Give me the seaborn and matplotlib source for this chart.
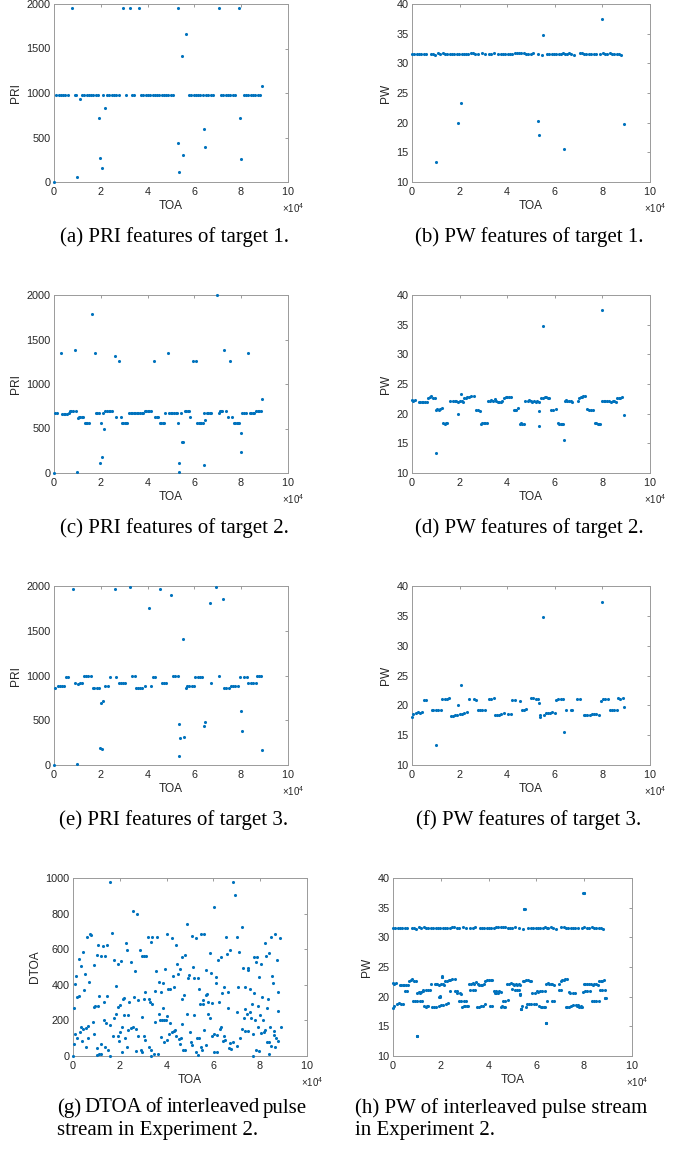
import numpy as np
import pandas as pd
import seaborn as sns
import matplotlib.pyplot as plt

# ---------------- target 1 : TOA (x1e4), PRI, PW ----------------
toa1 = [0.00, 0.10, 0.20, 0.29, 0.39, 0.49, 0.59,
        0.78, 0.88, 0.96, 1.00, 1.10,
        1.19, 1.29, 1.39, 1.48, 1.58, 1.68, 1.78, 1.87,
        1.94, 1.97, 2.06, 2.08, 2.18,
        2.27, 2.37, 2.47, 2.56, 2.66, 2.76,
        2.94, 3.06, 3.23, 3.33, 3.43, 3.63,
        3.72, 3.82, 3.92, 4.02, 4.11, 4.21, 4.31, 4.41, 4.50, 4.60, 4.70, 4.80, 4.89, 4.99, 5.09,
        5.28, 5.31, 5.34, 5.46, 5.50, 5.66,
        5.77, 5.87, 5.97, 6.06, 6.16, 6.26, 6.36,
        6.40, 6.44, 6.50, 6.60, 6.70, 6.80,
        7.04, 7.14, 7.24, 7.33, 7.43, 7.53, 7.63, 7.72,
        7.91, 7.97, 8.01,
        8.11, 8.21, 8.31, 8.41, 8.50, 8.60, 8.70, 8.80, 8.89]
pri1 = [0, 975, 975, 975, 975, 975, 975,
        1955, 975, 975, 52, 935,
        975, 975, 975, 975, 975, 975, 975, 975,
        714, 273, 161, 975, 826,
        975, 975, 975, 975, 975, 975,
        1955, 975, 1955, 975, 975, 1955,
        975, 975, 975, 975, 975, 975, 975, 975, 975, 975, 975, 975, 975, 975, 975,
        1955, 441, 108, 1413, 299, 1663,
        975, 975, 975, 975, 975, 975, 975,
        594, 393, 975, 975, 975, 975,
        1955, 975, 975, 975, 975, 975, 975, 975,
        1955, 721, 262,
        975, 975, 975, 975, 975, 975, 975, 975, 1077]
pw1 = [31.6, 31.5, 31.6, 31.5, 31.6, 31.6, 31.6,
       31.6, 31.5, 31.4, 13.4, 31.8,
       31.5, 31.7, 31.6, 31.5, 31.6, 31.5, 31.6, 31.6,
       20.0, 31.6, 23.3, 31.5, 31.5,
       31.6, 31.6, 31.7, 31.7, 31.5, 31.5,
       31.7, 31.6, 31.5, 31.6, 31.8, 31.6,
       31.6, 31.6, 31.6, 31.6, 31.6, 31.6, 31.7, 31.7, 31.8, 31.8, 31.7, 31.6, 31.5, 31.6, 31.7,
       31.6, 20.3, 17.9, 31.4, 34.8, 31.6,
       31.5, 31.6, 31.5, 31.5, 31.5, 31.6, 31.7,
       15.5, 31.5, 31.6, 31.7, 31.5, 31.4,
       31.7, 31.7, 31.5, 31.6, 31.5, 31.6, 31.6, 31.6,
       31.6, 37.4, 31.8,
       31.5, 31.6, 31.7, 31.6, 31.5, 31.6, 31.5, 31.4, 19.7]

# ---------------- target 2 ----------------
toa2 = [0.00, 0.06, 0.13, 0.28, 0.35, 0.41, 0.48, 0.55, 0.62,
        0.67, 0.74, 0.81, 0.88, 0.95,
        1.00, 1.01, 1.07, 1.13, 1.19, 1.25,
        1.31, 1.37, 1.43, 1.48,
        1.61, 1.74, 1.79, 1.85, 1.92,
        1.95, 2.00, 2.07, 2.08, 2.13,
        2.19, 2.26, 2.33, 2.40, 2.47, 2.60,
        2.67, 2.79, 2.86,
        2.90, 2.96, 3.02, 3.08, 3.14,
        3.20, 3.27, 3.34, 3.40, 3.47, 3.54, 3.60, 3.67, 3.74, 3.80,
        3.87, 3.94, 4.01, 4.08, 4.15,
        4.27, 4.33, 4.39, 4.45,
        4.52, 4.58, 4.64, 4.70,
        4.76, 4.86, 4.93, 5.00, 5.06, 5.13, 5.20, 5.26,
        5.32, 5.33, 5.35, 5.43, 5.49, 5.52,
        5.58, 5.65, 5.72, 5.76,
        5.82, 5.93, 6.06,
        6.12, 6.18, 6.24, 6.30, 6.36,
        6.40, 6.41, 6.47, 6.53, 6.60, 6.66, 6.73,
        6.96, 7.03, 7.08, 7.14, 7.20, 7.28,
        7.35, 7.42, 7.54, 7.62,
        7.68, 7.74, 7.80, 7.86, 7.92,
        7.98, 8.00, 8.05, 8.12, 8.19, 8.28,
        8.36, 8.43, 8.50, 8.56,
        8.63, 8.70, 8.76, 8.83, 8.89]
pri2 = [0, 675, 672, 1350, 668, 668, 668, 668, 672,
        692, 692, 692, 1379, 692,
        15, 617, 625, 625, 625, 625,
        561, 561, 561, 561,
        1790, 1350, 672, 672, 672,
        112, 561, 179, 673, 493,
        695, 695, 695, 695, 695, 1320,
        632, 1260, 632,
        561, 561, 561, 561, 561,
        673, 673, 673, 673, 673, 673, 673, 673, 673, 673,
        695, 695, 695, 695, 695,
        1260, 632, 632, 632,
        561, 561, 561, 561,
        673, 1350, 673, 673, 673, 673, 673, 673,
        561, 108, 11, 673, 351, 351,
        695, 695, 695, 695,
        632, 1260, 1260,
        561, 561, 561, 561, 561,
        86, 673, 598, 673, 673, 673, 673,
        2000, 673, 695, 695, 695, 1379,
        692, 632, 1260, 632,
        561, 561, 561, 561, 561,
        449, 236, 673, 673, 673, 1350,
        673, 673, 673, 673,
        695, 695, 695, 695, 830]
pw2 = [22.3, 22.2, 22.3, 22.0, 22.0, 22.0, 21.9, 22.0, 22.0,
       22.7, 22.8, 22.9, 22.7, 22.6,
       13.4, 20.7, 20.8, 20.6, 20.8, 20.9,
       18.4, 18.3, 18.5, 18.4,
       22.2, 22.2, 22.1, 22.2, 21.9,
       20.0, 22.1, 23.3, 22.2, 22.0,
       22.7, 22.7, 22.8, 22.8, 22.9, 22.9,
       20.7, 20.7, 20.5,
       18.3, 18.4, 18.4, 18.5, 18.4,
       22.2, 22.2, 22.3, 22.2, 22.4, 22.2, 22.0, 21.9, 22.0, 22.1,
       22.7, 22.8, 22.8, 22.8, 22.8,
       20.6, 20.6, 20.7, 20.9,
       18.3, 18.4, 18.3, 18.3,
       22.2, 22.2, 22.3, 22.2, 22.0, 22.1, 22.0, 22.1,
       22.0, 20.4, 18.0, 22.6, 22.7, 34.8,
       22.8, 22.8, 22.7, 22.7,
       20.6, 20.7, 20.8,
       18.4, 18.3, 18.2, 18.3, 18.2,
       15.5, 22.2, 22.3, 22.1, 22.2, 22.1, 22.0,
       22.1, 22.6, 22.8, 22.8, 22.9, 22.9,
       20.8, 20.7, 20.6, 20.7,
       18.4, 18.4, 18.3, 18.3, 18.3,
       22.2, 37.4, 22.1, 22.2, 22.1, 22.1,
       22.0, 22.2, 22.1, 22.0,
       22.6, 22.7, 22.7, 22.8, 19.8]

# ---------------- target 3 ----------------
toa3 = [0.00, 0.06, 0.16, 0.25, 0.34, 0.43,
        0.51, 0.60, 0.82, 0.90,
        1.00, 1.02, 1.11, 1.20,
        1.27, 1.37, 1.47, 1.56,
        1.65, 1.73, 1.82, 1.91,
        1.95, 2.00, 2.05, 2.08,
        2.20, 2.30, 2.39, 2.59, 2.67,
        2.77, 2.86, 2.95, 3.05,
        3.23, 3.34, 3.45,
        3.50, 3.58, 3.67, 3.75, 3.87, 4.04, 4.14,
        4.21, 4.31, 4.52,
        4.61, 4.70, 4.80,
        4.98, 5.09, 5.19, 5.29,
        5.33, 5.36, 5.38, 5.50, 5.55, 5.62,
        5.70, 5.79, 5.88, 5.99,
        6.04, 6.14, 6.24, 6.34,
        6.40, 6.46, 6.66, 6.73,
        6.94, 7.04, 7.23,
        7.28, 7.37, 7.46, 7.55, 7.64, 7.73, 7.86,
        7.94, 7.98, 8.02, 8.11, 8.25,
        8.31, 8.40, 8.50, 8.62,
        8.66, 8.76, 8.86, 8.90]
pri3 = [0, 862, 881, 881, 881, 881,
        985, 985, 1970, 911,
        11, 900, 911, 911,
        996, 996, 996, 996,
        862, 862, 862, 862,
        193, 691, 175, 714,
        881, 881, 985, 1970, 985,
        911, 911, 911, 911,
        1989, 996, 996,
        862, 862, 862, 862, 881, 1758, 881,
        985, 985, 1970,
        911, 911, 911,
        1903, 996, 996, 996,
        461, 104, 305, 1405, 316, 862,
        881, 881, 881, 881,
        985, 985, 985, 985,
        435, 483, 1814, 911,
        1989, 996, 1855,
        862, 862, 862, 881, 881, 881, 881,
        985, 602, 383, 985, 985,
        911, 911, 911, 911,
        996, 996, 996, 167]
pw3 = [18.1, 18.5, 18.7, 18.9, 18.7, 18.8,
       20.9, 20.9, 19.3, 19.3,
       13.4, 19.3, 19.3, 19.3,
       21.1, 21.1, 21.1, 21.2,
       18.2, 18.2, 18.3, 18.4,
       20.1, 18.6, 23.4, 18.6,
       18.7, 18.9, 21.0, 21.0, 20.9,
       19.3, 19.3, 19.2, 19.2,
       21.1, 21.1, 21.2,
       18.3, 18.3, 18.4, 18.5, 18.7, 18.5, 18.5,
       20.9, 20.9, 20.8,
       19.3, 19.2, 19.4,
       21.3, 21.2, 21.1, 21.1,
       20.4, 18.0, 18.4, 34.8, 18.3, 18.7,
       18.7, 18.7, 18.8, 18.7,
       20.9, 21.0, 21.0, 21.0,
       15.5, 19.3, 19.3, 19.3,
       21.1, 21.1, 18.3,
       18.3, 18.3, 18.4, 18.6, 18.6, 18.6, 18.4,
       20.8, 37.4, 21.0, 21.0, 21.0,
       19.2, 19.3, 19.3, 19.3,
       21.2, 21.1, 21.2, 19.8]

# ---------------- interleaved stream : TOA (x1e4), DTOA ----------------
toa_mix = [0.00, 0.03, 0.03, 0.07, 0.10, 0.13, 0.17, 0.18, 0.24, 0.27, 0.30, 0.34, 0.34, 0.37,
           0.41, 0.43, 0.47, 0.51, 0.54, 0.56, 0.61, 0.64, 0.64, 0.68, 0.74, 0.78, 0.84, 0.88,
           0.91, 0.94, 0.91, 1.01, 1.03, 1.03, 1.07, 1.08, 1.11, 1.12, 1.18, 1.20, 1.21, 1.27,
           1.31, 1.31, 1.35, 1.38, 1.40, 1.45, 1.47, 1.48, 1.57, 1.58, 1.60, 1.68, 1.70, 1.74,
           1.77, 1.82, 1.85, 1.91, 1.91, 1.94, 1.96, 2.01, 2.02, 2.05, 2.10, 2.11, 2.14, 2.17,
           2.19, 2.22, 2.28, 2.29, 2.32, 2.34, 2.35, 2.41, 2.46, 2.49, 2.56, 2.56, 2.62, 2.65,
           2.68, 2.69, 2.75, 2.76, 2.78, 2.86, 2.89, 2.93, 2.96, 2.97, 3.02, 3.03, 3.05, 3.08,
           3.08, 3.13, 3.20, 3.23, 3.25, 3.29, 3.32, 3.33, 3.35, 3.38, 3.39, 3.45, 3.49, 3.52,
           3.53, 3.60, 3.63, 3.66, 3.67, 3.70, 3.75, 3.78, 3.79, 3.83, 3.85, 3.87, 3.89, 3.93,
           3.96, 4.02, 4.03, 4.03, 4.07, 4.12, 4.15, 4.15, 4.22, 4.24, 4.27, 4.30, 4.32, 4.36,
           4.39, 4.40, 4.46, 4.50, 4.52, 4.56, 4.56, 4.60, 4.64, 4.64, 4.67, 4.70, 4.74, 4.77,
           4.80, 4.86, 4.87, 4.93, 4.97, 4.99, 5.03, 5.07, 5.07, 5.13, 5.17, 5.18, 5.24, 5.25,
           5.30, 5.33, 5.34, 5.37, 5.38, 5.43, 5.46, 5.47, 5.51, 5.54, 5.55, 5.60, 5.61, 5.67,
           5.68, 5.70, 5.74, 5.75, 5.78, 5.84, 5.87, 5.91, 5.92, 5.95, 6.01, 6.01, 6.04, 6.10,
           6.13, 6.14, 6.17, 6.21, 6.24, 6.27, 6.31, 6.32, 6.37, 6.41, 6.44, 6.45, 6.48, 6.52,
           6.58, 6.62, 6.64, 6.65, 6.71, 6.72, 6.77, 6.83, 6.85, 6.92, 6.99, 7.01, 7.02, 7.07,
           7.11, 7.14, 7.21, 7.22, 7.28, 7.29, 7.34, 7.36, 7.36, 7.42, 7.46, 7.49, 7.49, 7.55,
           7.58, 7.61, 7.63, 7.68, 7.69, 7.72, 7.74, 7.77, 7.81, 7.83, 7.86, 7.90, 7.92, 7.95,
           7.97, 7.99, 8.03, 8.05, 8.09, 8.12, 8.15, 8.20, 8.22, 8.26, 8.29, 8.30, 8.33, 8.36,
           8.38, 8.38, 8.43, 8.45, 8.46, 8.52, 8.55, 8.58, 8.59, 8.62, 8.65, 8.68, 8.72, 8.75,
           8.76, 8.78, 8.85, 8.87]
dtoa_mix = [0, 67, 267, 407, 121, 451, 103, 329, 544, 338, 133, 505, 161, 84,
            585, 151, 368, 458, 155, 50, 667, 170, 103, 417, 688, 678, 193, 510,
            277, 282, 123, 566, 47, 6, 626, 279, 338, 13, 561, 11, 65, 617,
            305, 200, 50, 559, 185, 338, 622, 32, 174, 976, 0, 690, 114, 542,
            211, 236, 394, 518, 277, 112, 84, 286, 136, 533, 164, 24, 323, 325,
            228, 103, 636, 52, 598, 144, 230, 301, 527, 159, 813, 164, 329, 477,
            151, 28, 798, 114, 316, 594, 34, 559, 22, 217, 321, 559, 114, 92,
            357, 559, 671, 318, 52, 305, 641, 0, 32, 669, 292, 9, 366, 189,
            480, 667, 9, 237, 415, 202, 359, 105, 200, 271, 411, 80, 200, 490,
            200, 686, 222, 90, 379, 125, 379, 187, 665, 136, 452, 142, 385, 144,
            626, 110, 518, 462, 95, 488, 69, 99, 557, 323, 181, 36, 342, 34,
            568, 742, 234, 439, 456, 136, 80, 673, 60, 499, 439, 230, 21, 665,
            101, 439, 6, 103, 374, 292, 50, 688, 32, 293, 314, 688, 144, 482,
            64, 340, 348, 234, 305, 576, 213, 467, 297, 112, 837, 125, 22, 409,
            443, 116, 22, 538, 301, 150, 557, 161, 353, 84, 385, 114, 92, 671,
            572, 361, 269, 45, 596, 71, 39, 976, 77, 905, 249, 667, 54, 389,
            587, 99, 727, 151, 497, 215, 262, 385, 138, 237, 484, 493, 138, 250,
            376, 211, 293, 121, 0, 557, 355, 200, 34, 527, 557, 280, 161, 443,
            30, 232, 518, 131, 333, 204, 136, 636, 146, 561, 267, 80, 321, 77,
            576, 13, 164, 669, 54, 447, 411, 138, 119, 688, 50, 101, 538, 357,
            84, 252, 665, 163]

t1 = pd.DataFrame({'TOA': np.array(toa1) * 1e4, 'PRI': pri1, 'PW': pw1})
t2 = pd.DataFrame({'TOA': np.array(toa2) * 1e4, 'PRI': pri2, 'PW': pw2})
t3 = pd.DataFrame({'TOA': np.array(toa3) * 1e4, 'PRI': pri3, 'PW': pw3})
mix = pd.DataFrame({'TOA': np.array(toa_mix) * 1e4, 'DTOA': dtoa_mix})
mix_pw = pd.concat([t1, t2, t3], ignore_index=True)

sns.set_theme(style='white')
plt.rcParams['font.family'] = ['Liberation Sans', 'DejaVu Sans']
plt.rcParams['mathtext.fontset'] = 'custom'
plt.rcParams['mathtext.rm'] = 'Liberation Sans'

blue = '#0072BD'
W, H = 683, 1149
fig = plt.figure(figsize=(W / 100, H / 100), dpi=100)


def add_ax(x0, y0, x1, y1):
    return fig.add_axes([x0 / W, 1 - y1 / H, (x1 - x0) / W, (y1 - y0) / H])


def draw(ax, df, col, ylim, yticks):
    sns.scatterplot(data=df, x='TOA', y=col, ax=ax, s=5, color=blue,
                    linewidth=0, clip_on=False, legend=False, zorder=3)
    ax.set_xlim(0, 1e5)
    ax.set_xticks(np.arange(0, 100001, 20000))
    ax.set_ylim(*ylim)
    ax.set_yticks(yticks)
    ax.set_xlabel('TOA', fontsize=8.6, color='#262626', labelpad=2)
    ax.set_ylabel(col, fontsize=8.6, color='#262626', labelpad=3)
    ax.ticklabel_format(axis='x', style='sci', scilimits=(4, 4), useMathText=True)
    off = ax.xaxis.get_offset_text()
    off.set_fontsize(7)
    off.set_color('#262626')
    off.set_horizontalalignment('center')
    off.set_x(1.02)
    ax.tick_params(direction='in', top=True, right=True, length=2.5, width=0.6,
                   color='#8c8c8c', labelsize=7.8, labelcolor='#262626', pad=2.5)
    for s in ax.spines.values():
        s.set_color('#9a9a9a')
        s.set_linewidth(0.7)


pri_ticks = [0, 500, 1000, 1500, 2000]
pw_ticks = [10, 15, 20, 25, 30, 35, 40]

draw(add_ax(54, 4, 288, 182), t1, 'PRI', (0, 2000), pri_ticks)
draw(add_ax(412, 4, 650, 182), t1, 'PW', (10, 40), pw_ticks)
draw(add_ax(54, 295, 288, 473), t2, 'PRI', (0, 2000), pri_ticks)
draw(add_ax(412, 295, 650, 473), t2, 'PW', (10, 40), pw_ticks)
draw(add_ax(54, 586, 288, 765), t3, 'PRI', (0, 2000), pri_ticks)
draw(add_ax(412, 586, 650, 765), t3, 'PW', (10, 40), pw_ticks)
draw(add_ax(73, 878, 307, 1056), mix, 'DTOA', (0, 1000), [0, 200, 400, 600, 800, 1000])
draw(add_ax(393, 878, 632, 1056), mix_pw, 'PW', (10, 40), pw_ticks)

cap = dict(family=['Liberation Serif', 'DejaVu Serif'], fontsize=15, color='black')
caps = [('(a) PRI features of target 1.', 174, 237), ('(b) PW features of target 1.', 529, 237),
        ('(c) PRI features of target 2.', 174, 528), ('(d) PW features of target 2.', 529, 528),
        ('(e) PRI features of target 3.', 174, 820), ('(f) PW features of target 3.', 529, 820)]
for txt, cx, cy in caps:
    fig.text(cx / W, 1 - cy / H, txt, ha='center', va='center', **cap)

# justified first line of (g)
words = ['(g)', 'DTOA', 'of', 'interleaved', 'pulse']
objs = [fig.text(0, 1 - 1108 / H, w, ha='left', va='center', **cap) for w in words]
fig.canvas.draw()
r = fig.canvas.get_renderer()
widths = [o.get_window_extent(r).width for o in objs]
gap = (307 - 57 - sum(widths)) / (len(words) - 1)
x = 57
for o, w in zip(objs, widths):
    o.set_x(x / W)
    x += w + gap
fig.text(57 / W, 1 - 1131 / H, 'stream in Experiment 2.', ha='left', va='center', **cap)
fig.text(355 / W, 1 - 1108 / H, '(h) PW of interleaved pulse stream', ha='left', va='center', **cap)
fig.text(355 / W, 1 - 1131 / H, 'in Experiment 2.', ha='left', va='center', **cap)

fig.savefig('out.png', dpi=100)
